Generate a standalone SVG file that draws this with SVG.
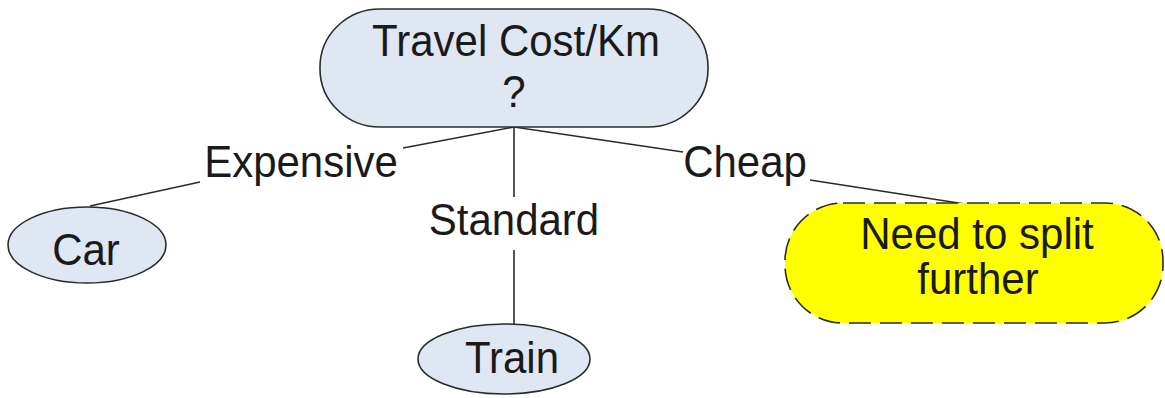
<svg xmlns="http://www.w3.org/2000/svg" width="1165" height="398" viewBox="0 0 1165 398">
  <style>
    .lbl { font-family: "Liberation Sans", Arial, sans-serif; font-size: 42px; fill: #1a1a1a; text-anchor: middle; }
    .node { fill: #dfe7f3; stroke: #2b2b2b; stroke-width: 1.6; }
    .todo { fill: #ffff00; stroke: #2b2b2b; stroke-width: 1.6; stroke-dasharray: 22 9; }
    .edge { stroke: #2b2b2b; stroke-width: 1.6; fill: none; }
  </style>
  <rect width="1165" height="398" fill="#ffffff"/>

  <!-- connectors, split around their labels; labels are slightly tall-scaled -->
  <g id="connectors">
    <polyline class="edge" points="514,127 403,148"/>
    <polyline class="edge" points="200,182 90,206"/>
    <polyline class="edge" points="514,127 514,197"/>
    <polyline class="edge" points="514,250 514,325"/>
    <polyline class="edge" points="514,127 683,152"/>
    <polyline class="edge" points="810,180 965,204"/>
    <text class="lbl" transform="translate(301,177) scale(1,1.07)">Expensive</text>
    <text class="lbl" transform="translate(514,235) scale(1,1.07)">Standard</text>
    <text class="lbl" transform="translate(745,177) scale(1,1.07)">Cheap</text>
  </g>

  <g id="root">
    <rect class="node" x="320" y="9" width="388" height="118" rx="60" ry="58"/>
    <text class="lbl" transform="translate(516,56) scale(1,1.07)">Travel Cost/Km</text>
    <text class="lbl" transform="translate(514,107) scale(1,1.07)">?</text>
  </g>

  <g id="car">
    <ellipse class="node" cx="87" cy="245" rx="79" ry="38"/>
    <text class="lbl" transform="translate(86,265) scale(1,1.07)">Car</text>
  </g>

  <g id="train">
    <ellipse class="node" cx="504" cy="359" rx="86" ry="35"/>
    <text class="lbl" transform="translate(512,373) scale(1,1.07)">Train</text>
  </g>

  <g id="split">
    <rect class="todo" x="785" y="203" width="378" height="120" rx="58" ry="58"/>
    <text class="lbl" transform="translate(977,249) scale(1,1.07)">Need to split</text>
    <text class="lbl" transform="translate(978,294) scale(1,1.07)">further</text>
  </g>
</svg>
